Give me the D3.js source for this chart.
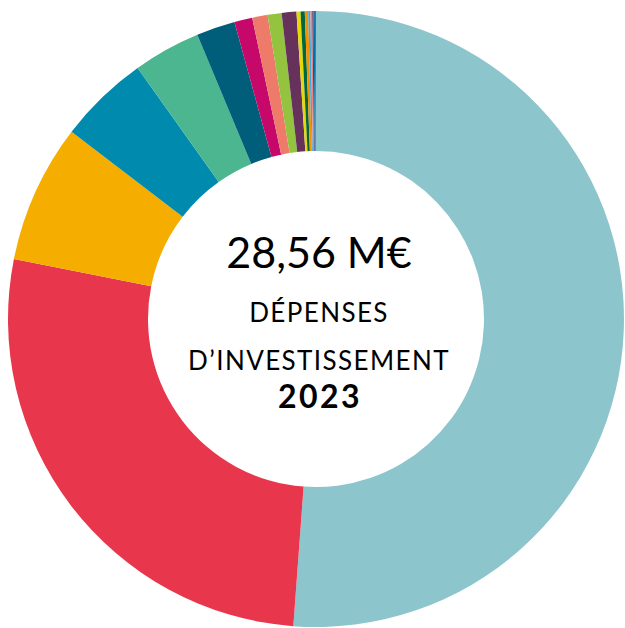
<!DOCTYPE html>
<html>
<head>
<meta charset="utf-8">
<script src="https://cdn.jsdelivr.net/npm/d3@7"></script>
<style>
  html, body { margin: 0; padding: 0; background: #fff; }
  svg { display: block; }
</style>
</head>
<body>
<script>
'use strict';

// budget lines, clockwise from 12 o'clock (M€)
var categories = ['poste1', 'poste2', 'poste3', 'poste4', 'poste5', 'poste6', 'poste7', 'poste8', 'poste9',
  'poste10', 'poste11', 'poste12', 'poste13', 'poste14', 'poste15', 'poste16', 'poste17', 'poste18'];
var values = [14.62, 7.70, 2.08, 1.36, 1.01, 0.58, 0.27, 0.23, 0.21,
  0.22, 0.06, 0.063, 0.05, 0.032, 0.028, 0.02, 0.02, 0.016];
var colors = ['#8DC5CD', '#E8364C', '#F5AD00', '#008BAE', '#4BB690', '#005E7A', '#C7086B', '#EE7A6A', '#93C33F',
  '#66325C', '#E4D80B', '#00673E', '#F39200', '#3AAAE0', '#F08080', '#5B3A6B', '#0072A8', '#E2323C'];

var totalLabel = '28,56 M€';
var titleLines = ['DÉPENSES', 'D’INVESTISSEMENT'];
var yearLabel = '2023';

build();

function build() {
  var width = 625,
    height = 628,
    cx = 316,
    cy = 319,
    outer = 308,
    inner = 168;

  var svg = d3.select('body').append('svg')
    .attr('width', width)
    .attr('height', height);

  var data = categories.map(function(c, i) {
    return { name: c, value: values[i], color: colors[i] };
  });

  var pie = d3.pie().sort(null).value(function(d) { return d.value; });
  var arc = d3.arc().innerRadius(inner).outerRadius(outer);

  var g = svg.append('g').attr('transform', 'translate(' + cx + ',' + cy + ')');

  g.selectAll('path')
    .data(pie(data))
    .enter().append('path')
    .attr('d', arc)
    .attr('fill', function(d) { return d.data.color; });

  var font = 'Lato, "Noto Sans", sans-serif';

  g.append('text')
    .attr('x', 3)
    .attr('y', -51)
    .attr('text-anchor', 'middle')
    .style('font-family', font)
    .style('font-size', '43px')
    .style('font-weight', 400)
    .attr('fill', '#000')
    .text(totalLabel);

  g.selectAll('.title')
    .data(titleLines)
    .enter().append('text')
    .attr('class', 'title')
    .attr('x', 3)
    .attr('y', function(d, i) { return 3 + i * 48; })
    .attr('text-anchor', 'middle')
    .style('font-family', font)
    .style('font-size', '26px')
    .style('font-weight', 400)
    .style('letter-spacing', '1.4px')
    .attr('fill', '#000')
    .text(function(d) { return d; });

  g.append('text')
    .attr('x', 4)
    .attr('y', 89)
    .attr('text-anchor', 'middle')
    .style('font-family', font)
    .style('font-size', '32px')
    .style('font-weight', 700)
    .style('letter-spacing', '2.5px')
    .attr('fill', '#000')
    .text(yearLabel);
}
</script>
</body>
</html>
